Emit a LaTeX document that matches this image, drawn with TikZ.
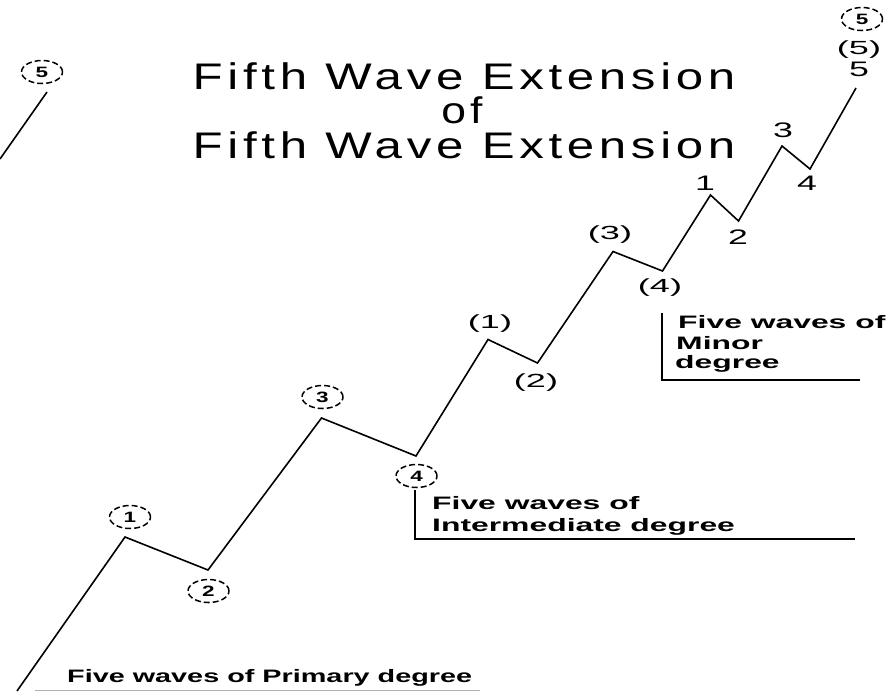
\documentclass[tikz,border=0pt]{standalone}
\usepackage{fontspec}
\setmainfont{Liberation Sans}
\newfontfamily\titlefont[LetterSpace=9.5]{Liberation Sans}
\usetikzlibrary{shapes.geometric}
\newcommand\xs[2]{\scalebox{#1}[1]{#2}}
\begin{document}
\begin{tikzpicture}[x=1pt,y=-1pt,
  wave/.style={line width=1.6pt, line join=miter},
  bracket/.style={line width=1.6pt},
  ttl/.style={inner sep=0pt, anchor=base, font=\titlefont\fontsize{37}{37}\selectfont},
  desc/.style={inner sep=0pt, anchor=base west, font=\bfseries\fontsize{18}{18}\selectfont},
  minnum/.style={inner sep=0pt, font=\fontsize{21}{21}\selectfont},
  intnum/.style={inner sep=0pt, font=\fontsize{19}{19}\selectfont},
  prim/.style={ellipse, draw, line width=1.5pt, dash pattern=on 6pt off 3pt,
    minimum width=41pt, minimum height=23pt, inner sep=0pt,
    font=\bfseries\fontsize{15}{15}\selectfont}]
\useasboundingbox (0,0) rectangle (890,691);

% title
\node[ttl] (t1) at (464,89) {\xs{1.33}{Fifth Wave Extension}};
\node[ttl] (t2) at (462,123) {\xs{1.2}{of}};
\node[ttl] (t3) at (464,158) {\xs{1.33}{Fifth Wave Extension}};

% wave vertices
\coordinate (p0) at (17,691);
\coordinate (p1) at (125,537);
\coordinate (p2) at (208,570);
\coordinate (p3) at (321.5,418);
\coordinate (p4) at (416,456);
\coordinate (p5) at (488,339.5);
\coordinate (p6) at (537.5,363);
\coordinate (p7) at (613,251.5);
\coordinate (p8) at (662.5,271);
\coordinate (p9) at (710.5,195);
\coordinate (p10) at (738.5,221);
\coordinate (p11) at (782,146);
\coordinate (p12) at (810,169);
\coordinate (p13) at (856,88);
\draw[wave] (p0) -- (p1) -- (p2) -- (p3) -- (p4) -- (p5) -- (p6) -- (p7)
  -- (p8) -- (p9) -- (p10) -- (p11) -- (p12) -- (p13);

\coordinate (q0) at (0,159);
\coordinate (q1) at (47,92);
\draw[wave] (q0) -- (q1);

% primary degree labels
\node[prim] (c1) at (130,517) {\xs{1.5}{1}};
\node[prim] (c2) at (208.5,591) {\xs{1.5}{2}};
\node[prim] (c3) at (322.5,397) {\xs{1.5}{3}};
\node[prim] (c4) at (416.5,476) {\xs{1.5}{4}};
\node[prim] (c5a) at (42,72) {\xs{1.5}{5}};
\node[prim] (c5b) at (862,19) {\xs{1.5}{5}};

% intermediate degree labels
\node[intnum] (i1) at (490,324) {\xs{1.9}{(1)}};
\node[intnum] (i2) at (536,383) {\xs{1.9}{(2)}};
\node[intnum] (i3) at (610,235) {\xs{1.9}{(3)}};
\node[intnum] (i4) at (660,288) {\xs{1.9}{(4)}};
\node[intnum] (i5) at (859,50) {\xs{1.9}{(5)}};

% minor degree labels
\node[minnum] (m1) at (705,183) {\xs{1.7}{1}};
\node[minnum] (m2) at (738,237) {\xs{1.7}{2}};
\node[minnum] (m3) at (783,130) {\xs{1.7}{3}};
\node[minnum] (m4) at (807,183) {\xs{1.7}{4}};
\node[minnum] (m5) at (859,69) {\xs{1.7}{5}};

% descriptions
\node[desc] (pd) at (67,682) {\xs{1.6}{Five waves of Primary degree}};
\coordinate (pb1) at (35,690);
\coordinate (pb2) at (480,690);
\draw[gray!60, line width=1pt] (pb1) -- (pb2);

\node[desc] (id1) at (432,509) {\xs{1.77}{Five waves of}};
\node[desc] (id2) at (432,531) {\xs{1.77}{Intermediate degree}};
\coordinate (ib1) at (415,490);
\coordinate (ib2) at (415,539);
\coordinate (ib3) at (855,539);
\draw[bracket] (ib1) -- (ib2) -- (ib3);

\node[desc] (md1) at (678,328) {\xs{1.77}{Five waves of}};
\node[desc] (md2) at (676,349) {\xs{1.77}{Minor}};
\node[desc] (md3) at (675,368) {\xs{1.77}{degree}};
\coordinate (mb1) at (662,313);
\coordinate (mb2) at (662,380);
\coordinate (mb3) at (860,380);
\draw[bracket] (mb1) -- (mb2) -- (mb3);
\end{tikzpicture}
\end{document}
